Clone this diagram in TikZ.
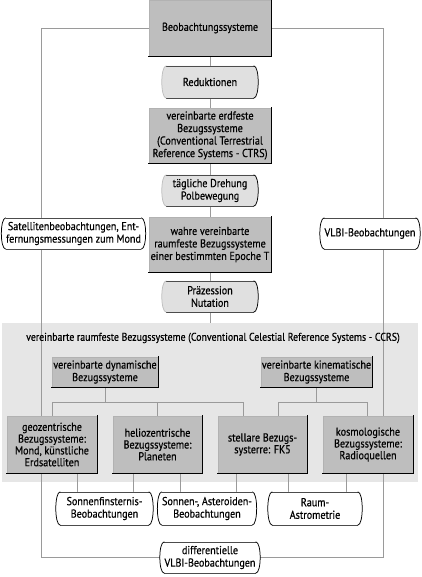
\documentclass[tikz,border=0pt]{standalone}
\usepackage{fontspec}
\setmainfont{PT Sans}[FakeStretch=0.88,FakeBold=0.5]
\definecolor{boxgray}{HTML}{BEBEBE}
\definecolor{regiongray}{HTML}{E6E6E6}
\definecolor{termgray}{HTML}{E0E0E0}
\definecolor{linegray}{HTML}{9A9A9A}
\pgfdeclarelayer{back}
\pgfdeclarelayer{mid}
\pgfsetlayers{back,mid,main}
\newcommand\termdraw[3]{%
  \fill[#2] (#1.north west) -- (#1.north east) .. controls ([xshift=6pt]#1.north east) and ([xshift=6pt]#1.south east) .. (#1.south east) -- (#1.south west) .. controls ([xshift=-6pt]#1.south west) and ([xshift=-6pt]#1.north west) .. (#1.north west) -- cycle;
  \draw[black!70, line width=0.45pt] (#1.north west) -- (#1.north east) (#1.south west) -- (#1.south east);
  \draw[black, line width=0.75pt] (#1.north east) .. controls ([xshift=6pt]#1.north east) and ([xshift=6pt]#1.south east) .. (#1.south east);
  \draw[#3, line width=0.75pt] (#1.south west) .. controls ([xshift=-6pt]#1.south west) and ([xshift=-6pt]#1.north west) .. (#1.north west);
}
\newcommand\shadowdraw[1]{%
  \draw[black, line width=1pt] ([yshift=0.5pt]#1.north east) -- (#1.south east) -- ([xshift=-0.5pt]#1.south west);
}
\tikzset{
  conn/.style={draw=linegray, line width=0.6pt},
  gbox/.style={fill=boxgray, draw=black!30, line width=0.3pt, inner sep=0pt, align=center},
  term/.style={inner sep=0pt, align=center},
}
\begin{document}
\begin{tikzpicture}[x=1pt,y=-1pt, font=\fontsize{11.5}{12.5}\selectfont]
\useasboundingbox (0,0) rectangle (421,577);

% main column
\node[gbox, minimum width=122pt, minimum height=56pt] (obs) at (210,28) {Beobachtungssysteme};
\node[term, minimum width=87pt, minimum height=32pt] (red) at (210,82) {Reduktionen};
\node[gbox, minimum width=122pt, minimum height=55pt] (ctrs) at (210,135.5) {vereinbarte erdfeste\\Bezugssysteme\\(Conventional Terrestrial\\Reference Systems - CTRS)};
\node[term, minimum width=87pt, minimum height=31pt] (dreh) at (210,190.5) {tägliche Drehung\\Polbewegung};
\node[gbox, minimum width=122pt, minimum height=55pt] (wahre) at (210,244.5) {wahre vereinbarte\\raumfeste Bezugssysteme\\einer bestimmten Epoche T};
\node[term, minimum width=87pt, minimum height=31pt] (praez) at (210,296.5) {Präzession\\Nutation};

\node[term, minimum width=134pt, minimum height=31pt] (sat) at (73.5,233.5) {Satellitenbeobachtungen, Ent-\\fernungsmessungen zum Mond};
\node[term, minimum width=87pt, minimum height=31pt] (vlbi) at (370,233.5) {VLBI-Beobachtungen};

% region
\node[font=\fontsize{11.2}{12}\selectfont, inner sep=0pt] (title) at (213,338) {vereinbarte raumfeste Bezugssysteme (Conventional Celestial Reference Systems - CCRS)};
\node[gbox, minimum width=106pt, minimum height=30pt] (dyn) at (105,372) {vereinbarte dynamische\\Bezugssysteme};
\node[gbox, minimum width=111pt, minimum height=30pt] (kin) at (316.5,372) {vereinbarte kinematische\\Bezugssysteme};

\begin{scope}[font=\fontsize{11.5}{11.8}\selectfont]
\node[gbox, minimum width=90pt, minimum height=57pt] (geo) at (52,444.5) {geozentrische\\Bezugssysteme:\\Mond, künstliche\\Erdsatelliten};
\node[gbox, minimum width=89pt, minimum height=57pt] (helio) at (157.5,444.5) {heliozentrische\\Bezugssysteme:\\Planeten};
\node[gbox, minimum width=89pt, minimum height=57pt] (stell) at (262.5,444.5) {stellare Bezugs-\\systerre: FK5};
\node[gbox, minimum width=90pt, minimum height=57pt] (kosmo) at (368,444.5) {kosmologische\\Bezugssysteme:\\Radioquellen};
\end{scope}

\node[term, minimum width=88pt, minimum height=33pt] (sonnf) at (104.5,508.5) {Sonnenfinsternis-\\Beobachtungen};
\node[term, minimum width=81pt, minimum height=33pt] (aster) at (207,508.5) {Sonnen-, Asteroiden-\\Beobachtungen};
\node[term, minimum width=85pt, minimum height=33pt] (raum) at (315,508.5) {Raum-\\Astrometrie};
\node[term, minimum width=87pt, minimum height=31pt] (diff) at (210,557.5) {differentielle\\VLBI-Beobachtungen};

\foreach \n in {obs,ctrs,wahre,dyn,kin,geo,helio,stell,kosmo} {\shadowdraw{\n}}

\begin{pgfonlayer}{mid}
  \termdraw{red}{termgray}{black!25}
  \termdraw{dreh}{termgray}{black!25}
  \termdraw{praez}{termgray}{black!25}
  \termdraw{sat}{white}{black}
  \termdraw{vlbi}{white}{black}
  \termdraw{sonnf}{white}{black}
  \termdraw{aster}{white}{black}
  \termdraw{raum}{white}{black}
  \termdraw{diff}{white}{black}
\end{pgfonlayer}

\begin{pgfonlayer}{back}
  \node[fill=regiongray, minimum width=416pt, minimum height=159pt, inner sep=0pt] (reg) at (210,402.5) {};
  % frame
  \coordinate (fTL) at (41,28);
  \coordinate (fTR) at (383,28);
  \coordinate (fBL) at (41,557.5);
  \coordinate (fBR) at (383,557.5);
  \draw[conn] (obs.west) -- (fTL) -- (fTL |- geo.north);
  \draw[conn] (fTL |- geo.south) -- (fBL) -- (diff.west);
  \draw[conn] (obs.east) -- (fTR) -- (fTR |- kosmo.north);
  \draw[conn] (fTR |- kosmo.south) -- (fBR) -- (diff.east);
  % centre column
  \draw[conn] (obs.south) -- (red.north);
  \draw[conn] (red.south) -- (ctrs.north);
  \draw[conn] (ctrs.south) -- (dreh.north);
  \draw[conn] (dreh.south) -- (wahre.north);
  \draw[conn] (wahre.south) -- (praez.north);
  \draw[conn] (praez.south) -- (reg.north);
  % trees
  \coordinate (s1) at ([xshift=-19.5pt]stell.north);
  \coordinate (s2) at ([xshift=15.5pt]stell.north);
  \draw[conn] (dyn.south) -- ++(0,15) coordinate (dj);
  \draw[conn] (geo.north) |- (dj) -| (s1);
  \draw[conn] (helio.north) -- (helio.north |- dj);
  \draw[conn] (kin.south) -- ++(0,15) coordinate (kj);
  \draw[conn] (s2) |- (kj) -| ([xshift=-1pt]kosmo.north);
  % bottom
  \draw[conn] ([xshift=25pt]geo.south) -- ([xshift=25pt]geo.south |- sonnf.north);
  \draw[conn] ([xshift=-24.5pt]helio.south) -- ([xshift=-24.5pt]helio.south |- sonnf.north);
  \draw[conn] ([xshift=22.5pt]helio.south) -- ([xshift=22.5pt]helio.south |- aster.north);
  \draw[conn] ([xshift=-26.5pt]stell.south) -- ([xshift=-26.5pt]stell.south |- aster.north);
  \draw[conn] ([xshift=25.5pt]stell.south) -- ([xshift=25.5pt]stell.south |- raum.north);
  \draw[conn] ([xshift=-22pt]kosmo.south) -- ([xshift=-22pt]kosmo.south |- raum.north);
\end{pgfonlayer}
\end{tikzpicture}
\end{document}
